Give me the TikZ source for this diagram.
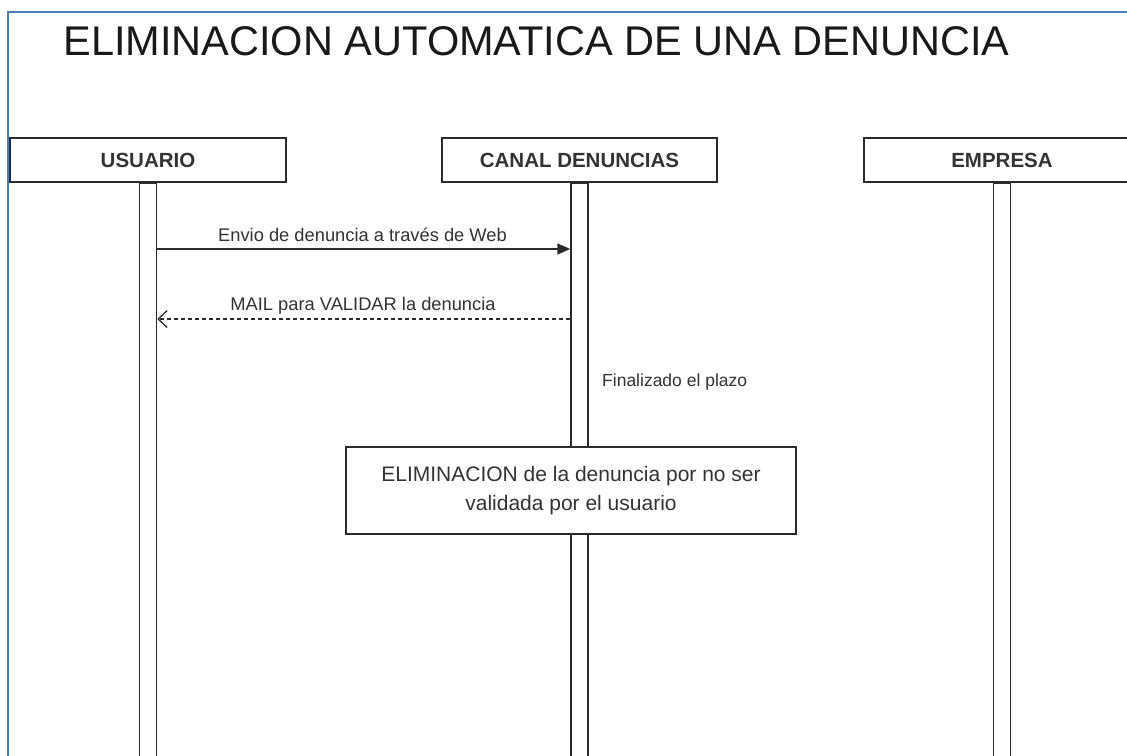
\documentclass[tikz,border=0pt]{standalone}
\usepackage{fontspec}
\setmainfont{Liberation Sans}
\usetikzlibrary{arrows.meta}
\definecolor{frameblue}{HTML}{4A7EBB}
\definecolor{ink}{HTML}{2B2B2B}
\definecolor{txt}{HTML}{333333}
\tikzset{
  x=1pt, y=-1pt,
  header/.style={draw=ink, line width=1.6pt, fill=white, minimum width=276pt, minimum height=44pt,
    inner sep=0pt, font=\fontsize{20.5}{24}\selectfont\bfseries, text=txt},
  lifeline/.style={draw=ink, line width=1.5pt, fill=white, minimum width=17pt, minimum height=580pt,
    inner sep=0pt, anchor=north},
  msglabel/.style={font=\fontsize{18.3}{22}\selectfont, text=txt, inner sep=0pt},
  syncmsg/.style={draw=ink, line width=1.5pt, -{Triangle[length=13pt,width=11pt]}},
  replymsg/.style={draw=ink, line width=1.3pt, dash pattern=on 4pt off 3pt, -{Straight Barb[length=9pt,width=17pt,line width=1.3pt]}},
  notebox/.style={draw=ink, line width=1.6pt, fill=white, minimum width=450pt, minimum height=87pt,
    inner sep=0pt, align=center, font=\fontsize{21}{29}\selectfont, text=txt},
}
\begin{document}
\begin{tikzpicture}
\useasboundingbox (0,0) rectangle (1127,755);
\clip (0,0) rectangle (1127,755);
\fill[white] (0,0) rectangle (1127,755);
% frame
\draw[frameblue, line width=2pt] (7.5,760) -- (7.5,11.7) -- (1130,11.7);
% title
\node[font=\fontsize{41.5}{48}\selectfont, text=black!90, inner sep=0pt] (title) at (536.5,41) {ELIMINACION AUTOMATICA DE UNA DENUNCIA};
% headers
\node[header] (u) at (148,160) {USUARIO};
\node[header, minimum width=275pt] (c) at (579.5,160) {CANAL DENUNCIAS};
\node[header] (e) at (1002,160) {EMPRESA};
% lifelines
\node[lifeline] (ul) at (u.south) {};
\node[lifeline] (cl) at (c.south) {};
\node[lifeline] (el) at (e.south) {};
% messages
\coordinate (m1) at (0,249);
\coordinate (m2) at (0,319);
\draw[syncmsg] (ul.east |- m1) -- (cl.west |- m1);
\node[msglabel] (l1) at (362.5,235) {Envio de denuncia a través de Web};
\draw[replymsg] (cl.west |- m2) -- (ul.east |- m2);
\node[msglabel] (l2) at (363,306) {MAIL para VALIDAR la denuncia};
% note
\node[msglabel, font=\fontsize{17.5}{20}\selectfont, anchor=west] (fin) at (602,382) {Finalizado el plazo};
\node[notebox] (elim) at (571,490.5) {ELIMINACION de la denuncia por no ser\\validada por el usuario};
\end{tikzpicture}
\end{document}
